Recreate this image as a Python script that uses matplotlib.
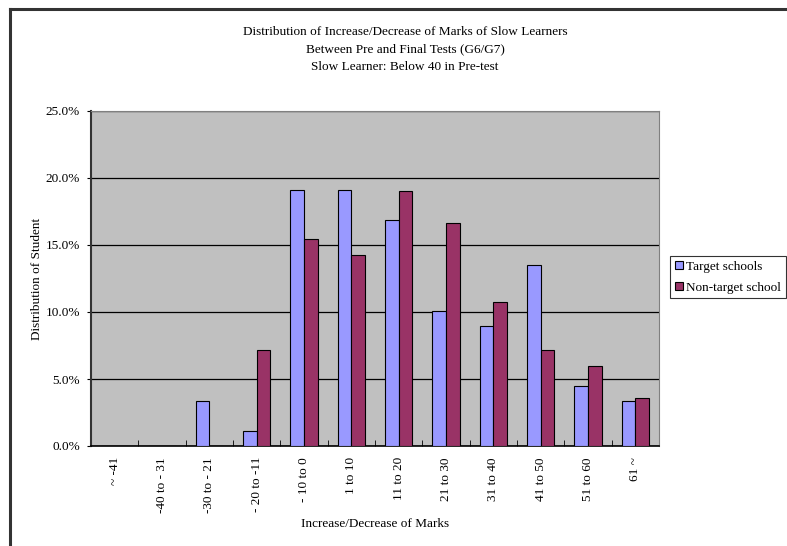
import matplotlib
matplotlib.use("Agg")
import matplotlib.pyplot as plt
import numpy as np
from matplotlib.ticker import FuncFormatter

categories = ["~ -41", "-40 to - 31", "-30 to - 21", "- 20 to -11", "- 10 to 0",
              "1 to 10", "11 to 20", "21 to 30", "31 to 40", "41 to 50",
              "51 to 60", "61 ~"]
target_pct = [0.0, 0.0, 3.37, 1.12, 19.10, 19.10, 16.85, 10.11, 8.99, 13.48, 4.49, 3.37]
nontarget_pct = [0.0, 0.0, 0.0, 7.14, 15.48, 14.29, 19.05, 16.67, 10.71, 7.14, 5.95, 3.57]
series_names = ["Target schools", "Non-target school"]

plt.rcParams['font.family'] = ['Liberation Serif', 'DejaVu Serif']

W, H = 787, 546
fig = plt.figure(figsize=(W / 100, H / 100), dpi=100)

# outer chart border (top and left edges)
fig.add_artist(plt.Line2D([9.5 / W, 9.5 / W], [0, 1 - 8.5 / H], color="#333333", lw=2.2,
                          transform=fig.transFigure))
fig.add_artist(plt.Line2D([9.5 / W, 1], [1 - 8.5 / H, 1 - 8.5 / H], color="#333333", lw=2.2,
                          transform=fig.transFigure))

left, right, top, bottom = 91, 659, 111, 446
ax = fig.add_axes([left / W, 1 - bottom / H, (right - left) / W, (bottom - top) / H])
ax.set_facecolor("#C0C0C0")

x = np.arange(len(categories))
bw = 0.286
ax.bar(x - bw / 2, target_pct, bw, color="#9999FF", edgecolor="black", lw=0.8,
       label=series_names[0], zorder=3)
ax.bar(x + bw / 2, nontarget_pct, bw, color="#993366", edgecolor="black", lw=0.8,
       label=series_names[1], zorder=3)

ax.set_xlim(-0.5, len(categories) - 0.5)
ax.set_ylim(0, 25)
ax.set_yticks(np.arange(0, 26, 5))
ax.yaxis.set_major_formatter(FuncFormatter(lambda v, p: f"{v:.1f}%"))
ax.grid(axis="y", color="black", lw=0.9, zorder=1)
ax.set_axisbelow(True)

ax.set_xticks(x)
ax.set_xticklabels(categories, rotation=90, fontsize=9.5, va="top")
ax.set_xticks(np.arange(-0.5, len(categories), 1), minor=True)
ax.tick_params(axis="x", which="major", length=0, pad=8)
ax.tick_params(axis="x", which="minor", direction="in", length=4, color="black")
ax.tick_params(axis="y", direction="out", length=3, labelsize=9.5, pad=5)

for side in ["top", "right"]:
    ax.spines[side].set_color("#808080")
ax.spines["left"].set_color("#333333")
ax.spines["left"].set_linewidth(1.5)
ax.spines["bottom"].set_color("black")
ax.spines["bottom"].set_linewidth(1.2)

ax.set_ylabel("Distribution of Student", fontsize=9.5, labelpad=2)
ax.set_xlabel("Increase/Decrease of Marks", fontsize=9.5, labelpad=4)

fig.text(405 / W, 1 - 32 / H, "Distribution of Increase/Decrease of Marks of Slow Learners",
         ha="center", va="center", fontsize=9.5)
fig.text(405 / W, 1 - 49 / H, "Between Pre and Final Tests (G6/G7)",
         ha="center", va="center", fontsize=9.5)
fig.text(405 / W, 1 - 67 / H, "Slow Learner: Below 40 in Pre-test",
         ha="center", va="center", fontsize=9.5)

leg = fig.legend(loc="upper left", bbox_to_anchor=(670 / W, 1 - 256 / H),
                 frameon=True, fancybox=False, edgecolor="black", fontsize=9.5,
                 handlelength=0.6, handleheight=0.6, handletextpad=0.3,
                 borderpad=0.35, labelspacing=0.7, borderaxespad=0)
leg.get_frame().set_linewidth(0.8)

fig.savefig("out.png", dpi=100)
